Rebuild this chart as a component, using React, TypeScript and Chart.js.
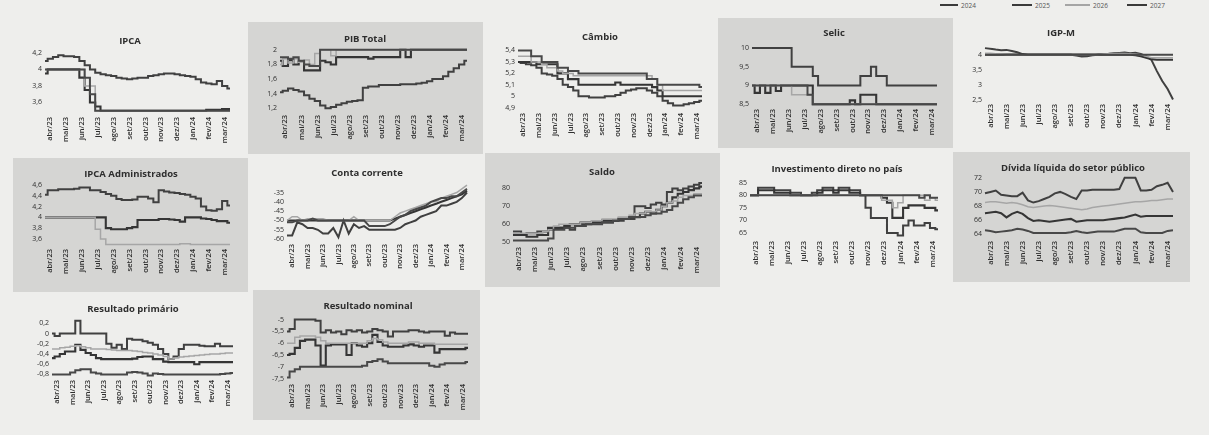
import React, { useEffect, useRef } from 'react';
import { Chart, registerables } from 'chart.js';
Chart.register(...registerables);

const FONT = "'Open Sans', 'DejaVu Sans', sans-serif";

// ---- labels ----
const months = ['abr/23', 'mai/23', 'jun/23', 'jul/23', 'ago/23', 'set/23', 'out/23', 'nov/23', 'dez/23', 'jan/24', 'fev/24', 'mar/24'];
const years = ['2024', '2025', '2026', '2027'];

// ---- tick values ----
const ipcaTicks = [3.6, 3.8, 4, 4.2];
const pibTicks = [1.2, 1.4, 1.6, 1.8, 2];
const cambioTicks = [4.9, 5, 5.1, 5.2, 5.3, 5.4];
const selicTicks = [8.5, 9, 9.5, 10];
const igpmTicks = [2.5, 3, 3.5, 4];
const admTicks = [3.6, 3.8, 4, 4.2, 4.4, 4.6];
const ccTicks = [-60, -55, -50, -45, -40, -35];
const saldoTicks = [50, 60, 70, 80];
const idpTicks = [65, 70, 75, 80, 85];
const divTicks = [64, 66, 68, 70, 72];
const rpTicks = [-0.8, -0.6, -0.4, -0.2, 0, 0.2];
const rnTicks = [-7.5, -7, -6.5, -6, -5.5, -5];

// ---- series (weekly, abr/23 .. mar/24) ----
const ipca2024 = [4.10,4.13,4.15,4.17,4.16,4.16,4.15,4.10,4.05,4.00, 3.96,3.94,3.93,3.92,3.90,3.89,3.88,3.89,3.90,3.90, 3.92,3.93,3.94,3.95,3.95,3.94,3.93,3.92,3.91,3.88, 3.84,3.83,3.82,3.86,3.80,3.77];
const ipca2025 = [3.95,4.00,4.00,4.00,4.00,4.00,4.00,3.90,3.75,3.60, 3.55,3.50,3.50,3.50,3.50,3.50,3.50,3.50,3.50,3.50, 3.50,3.50,3.50,3.50,3.50,3.50,3.50,3.50,3.50,3.50, 3.50,3.51,3.51,3.51,3.52,3.52];
const ipca2026 = [4.00,4.00,4.00,4.00,4.00,4.00,4.00,4.00,3.80,3.80, 3.50,3.50,3.50,3.50,3.50,3.50,3.50,3.50,3.50,3.50, 3.50,3.50,3.50,3.50,3.50,3.50,3.50,3.50,3.50,3.50, 3.50,3.50,3.50,3.50,3.50,3.50];
const ipca2027 = [4.00,4.00,4.00,4.00,4.00,4.00,4.00,4.00,3.90,3.70, 3.50,3.50,3.50,3.50,3.50,3.50,3.50,3.50,3.50,3.50, 3.50,3.50,3.50,3.50,3.50,3.50,3.50,3.50,3.50,3.50, 3.50,3.50,3.50,3.50,3.50,3.50];

const pib2024 = [1.42,1.44,1.47,1.45,1.43,1.38,1.33,1.30,1.24,1.20, 1.22,1.25,1.27,1.29,1.30,1.31,1.48,1.50,1.50,1.52, 1.52,1.52,1.52,1.53,1.53,1.53,1.54,1.55,1.57,1.60, 1.60,1.64,1.70,1.75,1.80,1.85];
const pib2025 = [1.85,1.78,1.86,1.80,1.84,1.72,1.72,1.72,1.85,1.83, 1.80,1.90,1.90,1.90,1.90,1.90,1.90,1.88,1.90,1.90, 1.90,1.90,1.90,2.00,1.90,2.00,2.00,2.00,2.00,2.00, 2.00,2.00,2.00,2.00,2.00,2.00];
const pib2026 = [1.80,1.88,1.82,1.88,1.83,1.86,1.80,1.95,2.00,2.00, 1.92,2.00,2.00,2.00,2.00,2.00,2.00,2.00,2.00,2.00, 2.00,2.00,2.00,2.00,2.00,2.00,2.00,2.00,2.00,2.00, 2.00,2.00,2.00,2.00,2.00,2.00];
const pib2027 = [1.90,1.90,1.88,1.90,1.85,1.80,1.78,1.78,2.00,2.00, 2.00,2.00,2.00,2.00,2.00,2.00,2.00,2.00,2.00,2.00, 2.00,2.00,2.00,2.00,2.00,2.00,2.00,2.00,2.00,2.00, 2.00,2.00,2.00,2.00,2.00,2.00];

const cambio2024 = [5.30,5.29,5.28,5.27,5.25,5.20,5.19,5.18,5.15,5.10, 5.08,5.05,5.00,5.00,4.99,4.99,4.99,5.00,5.00,5.01, 5.03,5.05,5.06,5.07,5.07,5.05,5.03,5.00,4.96,4.94, 4.92,4.92,4.93,4.94,4.95,4.96];
const cambio2025 = [5.30,5.30,5.30,5.30,5.28,5.28,5.28,5.28,5.20,5.20, 5.15,5.15,5.10,5.10,5.10,5.10,5.10,5.10,5.10,5.12, 5.10,5.10,5.10,5.10,5.10,5.10,5.08,5.05,5.00,5.00, 5.00,5.00,5.00,5.00,5.00,5.00];
const cambio2026 = [5.35,5.35,5.35,5.30,5.30,5.28,5.25,5.25,5.22,5.20, 5.20,5.18,5.18,5.18,5.18,5.18,5.18,5.18,5.18,5.18, 5.18,5.18,5.18,5.18,5.18,5.18,5.15,5.10,5.05,5.05, 5.05,5.05,5.05,5.05,5.05,5.05];
const cambio2027 = [5.40,5.40,5.40,5.35,5.35,5.30,5.30,5.30,5.25,5.25, 5.22,5.22,5.20,5.20,5.20,5.20,5.20,5.20,5.20,5.20, 5.20,5.20,5.20,5.20,5.20,5.15,5.15,5.10,5.10,5.10, 5.10,5.10,5.10,5.10,5.10,5.08];

const selic2024 = [10,10,10,10,10,10,10,10,9.5,9.5, 9.5,9.5,9.25,9,9,9,9,9,9,9, 9,9.25,9.25,9.5,9.25,9.25,9,9,9,9, 9,9,9,9,9,9];
const selic2025 = [9,8.8,9,8.8,9,8.85,9,9,9,9, 9,9,8.5,8.5,8.5,8.5,8.5,8.5,8.5,8.6, 8.5,8.75,8.75,8.75,8.5,8.5,8.5,8.5,8.5,8.5, 8.5,8.5,8.5,8.5,8.5,8.5];
const selic2026 = [9,9,9,9,9,9,9,9,8.75,8.75, 8.75,8.75,8.5,8.5,8.5,8.5,8.5,8.5,8.5,8.5, 8.5,8.5,8.5,8.5,8.5,8.5,8.5,8.5,8.5,8.5, 8.5,8.5,8.5,8.5,8.5,8.5];
const selic2027 = [9,9,9,9,9,9,9,9,9,9, 9,8.75,8.5,8.5,8.5,8.5,8.5,8.5,8.5,8.5, 8.5,8.5,8.5,8.5,8.5,8.5,8.5,8.5,8.5,8.5, 8.5,8.5,8.5,8.5,8.5,8.5];

const igpm2024 = [4.22,4.20,4.17,4.15,4.16,4.12,4.08,4.02,4.00,4.00, 4.00,4.00,4.00,4.00,4.00,4.00,4.00,3.97,3.94,3.95, 3.98,4.00,4.02,4.03,4.05,4.06,4.07,4.05,4.06,4.02, 3.95,3.82,3.45,3.12,2.85,2.50];
const igpm2025 = [4.00,4.00,4.00,4.00,4.00,4.00,4.00,4.00,4.00,4.00, 4.00,4.00,4.00,4.00,4.00,4.00,4.00,4.00,4.00,4.00, 4.00,4.00,4.00,4.00,4.00,4.00,4.00,4.00,3.98,3.95, 3.90,3.85,3.83,3.83,3.83,3.83];
const igpm2026 = [4.05,4.05,4.03,4.02,4.00,4.00,4.00,4.00,4.00,4.00, 4.00,4.00,4.00,4.00,4.00,4.00,4.00,4.00,4.00,4.00, 4.00,4.00,4.02,4.03,4.03,4.04,4.04,4.03,4.02,4.00, 3.95,3.90,3.90,3.90,3.90,3.90];
const igpm2027 = [4.00,4.00,4.00,4.00,4.00,4.00,4.00,4.00,4.00,4.00, 4.00,4.00,4.00,4.00,4.00,4.00,4.00,4.00,4.00,4.00, 4.00,4.00,4.00,4.00,4.00,4.00,4.00,4.00,4.00,4.00, 4.00,4.00,4.00,4.00,4.00,4.00];

const adm2024 = [4.42,4.50,4.50,4.52,4.52,4.52,4.53,4.55,4.55,4.50, 4.50,4.47,4.43,4.40,4.34,4.32,4.32,4.33,4.38,4.38, 4.35,4.28,4.50,4.48,4.46,4.45,4.43,4.42,4.38,4.35, 4.20,4.13,4.12,4.15,4.30,4.22];
const adm2025 = [4.00,4.00,4.00,4.00,4.00,4.00,4.00,4.00,4.00,4.00, 4.00,4.00,3.80,3.78,3.78,3.78,3.80,3.82,3.95,3.95, 3.95,3.95,3.97,3.97,3.96,3.95,3.92,4.00,4.00,4.00, 3.98,3.97,3.95,3.93,3.93,3.90];
const adm2026 = [4.00,4.00,4.00,4.00,4.00,4.00,4.00,4.00,4.00,4.00, 3.78,3.60,3.50,3.50,3.50,3.50,3.50,3.50,3.50,3.50, 3.50,3.50,3.50,3.50,3.50,3.50,3.51,3.51,3.50,3.50, 3.50,3.50,3.50,3.50,3.50,3.50];

const cc2024 = [-58,-58,-51,-52,-54,-54,-55,-57,-57,-54, -59,-50,-57,-52,-54,-53,-55,-55,-55,-55, -55,-55,-54,-52,-51,-50,-48,-47,-46,-45, -42,-42,-41,-40,-38,-35];
const cc2025 = [-50,-50,-50,-50,-50,-50,-50,-50,-50,-50, -50,-50,-50,-50,-50,-50,-50,-50,-50,-50, -50,-49,-48,-47,-46,-45,-44,-43,-42,-41, -40,-39,-38,-37,-36,-34];
const cc2026 = [-50,-48,-48,-50,-49,-49,-49,-49,-50,-50, -50,-50,-50,-48,-50,-50,-50,-50,-50,-50, -50,-48,-46,-45,-44,-43,-42,-41,-40,-40, -38,-37,-36,-35,-33,-31];
const cc2027 = [-51,-51,-50,-50,-50,-49,-50,-50,-50,-50, -50,-50,-50,-50,-50,-50,-53,-53,-53,-53, -52,-50,-48,-47,-45,-44,-43,-42,-40,-39, -38,-38,-37,-37,-35,-33];

const saldo2024 = [56,56,54,55,55,56,56,57,58,58, 58,57,59,60,60,61,61,61,61,62, 62,63,63,70,70,69,71,72,71,78, 80,79,80,81,82,83];
const saldo2025 = [54,54,54,53,53,54,54,58,58,58, 59,60,60,61,61,61,61,62,62,62, 63,63,64,64,66,67,66,68,70,72, 75,77,78,79,80,81];
const saldo2026 = [55,55,55,55,55,55,56,57,59,60, 60,60,60,61,61,62,62,63,63,63, 64,64,65,66,66,67,67,68,70,72, 73,75,76,76,77,77];
const saldo2027 = [51,51,51,51,51,51,51,52,57,57, 58,58,59,59,60,60,60,61,61,62, 63,63,64,64,64,65,66,66,67,68, 70,72,74,75,76,76];

const idp2024 = [80,80,83,83,83,82,82,82,81,81, 80,80,81,82,83,83,82,83,83,82, 82,80,75,71,71,71,65,65,64,68, 70,68,68,69,67,66.5];
const idp2025 = [80,80,82,82,82,81,81,81,80,80, 80,80,80,81,82,82,81,82,82,81, 81,80,80,80,80,79,77,71,71,75, 76,76,76,75,75,74];
const idp2026 = [80,80,80,80,80,80,80,80,80,80, 80,80,80,80,80,80,80,80,80,80, 80,80,80,80,80,78,78,75,77,80, 80,80,80,78,79,78];
const idp2027 = [80,80,80,80,80,80,80,80,80,80, 80,80,80,80,80,80,80,80,80,80, 80,80,80,80,80,80,80,80,80,80, 80,80,79,80,79,79];

const div2024 = [69.8,70.0,70.2,69.6,69.5,69.4,69.4,69.9,68.8,68.5, 68.7,69.0,69.3,69.8,70.0,69.7,69.3,69.0,70.2,70.2, 70.3,70.3,70.3,70.3,70.3,70.4,72.0,72.0,72.0,70.2, 70.2,70.3,70.8,71.0,71.3,70.0];
const div2025 = [67.0,67.1,67.2,67.0,66.4,66.9,67.2,66.9,66.3,65.9, 66.0,65.9,65.8,65.9,66.0,66.1,66.2,65.8,65.9,66.0, 66.0,66.0,66.0,66.1,66.2,66.3,66.4,66.6,66.8,66.5, 66.6,66.6,66.6,66.6,66.6,66.6];
const div2026 = [68.5,68.6,68.6,68.5,68.4,68.5,68.4,68.2,67.9,67.8, 67.9,68.0,68.1,68.0,67.9,67.8,67.7,67.6,67.5,67.6, 67.8,67.9,68.0,68.1,68.2,68.3,68.4,68.5,68.6,68.6, 68.7,68.8,68.8,68.9,69.0,69.0];
const div2027 = [64.6,64.5,64.3,64.4,64.5,64.6,64.8,64.7,64.5,64.2, 64.2,64.2,64.2,64.2,64.2,64.2,64.3,64.5,64.3,64.2, 64.3,64.4,64.4,64.4,64.4,64.6,64.8,64.8,64.8,64.3, 64.2,64.2,64.2,64.2,64.5,64.6];

const rp2024 = [0,-0.05,0,0,0,0.25,0,0,0,0, 0,-0.2,-0.28,-0.22,-0.3,-0.1,-0.12,-0.12,-0.15,-0.18, -0.22,-0.3,-0.4,-0.5,-0.45,-0.3,-0.22,-0.22,-0.22,-0.24, -0.25,-0.25,-0.2,-0.25,-0.25,-0.25];
const rp2025 = [-0.48,-0.45,-0.4,-0.35,-0.35,-0.22,-0.32,-0.38,-0.42,-0.48, -0.5,-0.5,-0.5,-0.5,-0.5,-0.5,-0.49,-0.46,-0.45,-0.45, -0.5,-0.5,-0.55,-0.56,-0.56,-0.56,-0.56,-0.56,-0.6,-0.56, -0.56,-0.56,-0.56,-0.56,-0.56,-0.56];
const rp2026 = [-0.3,-0.3,-0.28,-0.27,-0.25,-0.24,-0.26,-0.28,-0.3,-0.3, -0.3,-0.31,-0.32,-0.33,-0.33,-0.33,-0.34,-0.35,-0.37,-0.38, -0.4,-0.42,-0.45,-0.5,-0.48,-0.46,-0.45,-0.44,-0.43,-0.42, -0.41,-0.4,-0.4,-0.39,-0.38,-0.38];
const rp2027 = [-0.8,-0.8,-0.8,-0.8,-0.76,-0.72,-0.7,-0.7,-0.76,-0.78, -0.8,-0.8,-0.8,-0.8,-0.8,-0.76,-0.75,-0.76,-0.78,-0.82, -0.78,-0.79,-0.8,-0.8,-0.8,-0.8,-0.8,-0.8,-0.8,-0.8, -0.8,-0.8,-0.8,-0.79,-0.78,-0.77];

const rn2024 = [-5.5,-5.4,-5.0,-5.0,-5.0,-5.0,-5.05,-5.55,-5.45,-5.55, -5.5,-5.62,-5.45,-5.5,-5.45,-5.55,-5.5,-5.4,-5.45,-5.5, -5.72,-5.5,-5.5,-5.5,-5.45,-5.45,-5.5,-5.55,-5.5,-5.5, -5.5,-5.68,-5.55,-5.6,-5.6,-5.6];
const rn2025 = [-6.5,-6.45,-6.2,-5.9,-5.85,-5.85,-6.1,-6.95,-6.1,-6.05, -6.05,-6.05,-6.5,-6.0,-6.1,-6.15,-6.0,-5.65,-5.95,-6.1, -6.15,-6.15,-6.15,-6.1,-6.05,-6.1,-6.15,-6.1,-6.1,-6.4, -6.25,-6.25,-6.25,-6.25,-6.25,-6.2];
const rn2026 = [-6.0,-6.0,-5.75,-5.7,-5.7,-5.7,-5.75,-5.9,-6.0,-6.0, -6.0,-6.0,-6.0,-6.0,-6.0,-6.0,-5.9,-5.8,-5.85,-5.95, -6.0,-6.0,-6.0,-6.0,-5.95,-5.95,-6.0,-6.0,-6.0,-6.05, -6.05,-6.05,-6.05,-6.05,-6.05,-6.05];
const rn2027 = [-7.45,-7.2,-7.1,-7.0,-7.0,-7.0,-7.0,-7.0,-7.0,-7.0, -7.0,-7.0,-7.0,-7.0,-7.0,-6.95,-6.8,-6.75,-6.68,-6.78, -6.85,-6.85,-6.85,-6.85,-6.85,-6.85,-6.85,-6.85,-6.95,-7.0, -6.9,-6.85,-6.85,-6.85,-6.85,-6.8];

// ---- styles ----
const yearStyle: Record<string, { color: string; width: number }> = {
  '2024': { color: '#404040', width: 2 },
  '2025': { color: '#353535', width: 2.1 },
  '2026': { color: '#a6a6a6', width: 1.5 },
  '2027': { color: '#484848', width: 2 },
};

const weekLabels = months.flatMap((m) => ['', m, '']);

type Cfg = {
  title: string;
  series: { year: string; data: number[] }[];
  yMin: number; yMax: number; ticks: number[];
  plot: [number, number, number, number];
  titlePos: [number, number];
  stepped: false | 'middle';
};

const s4 = (a: number[], b: number[], c: number[], d: number[]) => [
  { year: years[3], data: d }, { year: years[2], data: c }, { year: years[1], data: b }, { year: years[0], data: a },
];

const charts: Cfg[] = [
  { title: 'IPCA', series: s4(ipca2024, ipca2025, ipca2026, ipca2027), yMin: 3.46, yMax: 4.22, ticks: ipcaTicks, plot: [45, 230, 50, 114], titlePos: [130, 41], stepped: 'middle' },
  { title: 'PIB Total', series: s4(pib2024, pib2025, pib2026, pib2027), yMin: 1.15, yMax: 2.05, ticks: pibTicks, plot: [280, 467, 45, 112], titlePos: [365, 39], stepped: 'middle' },
  { title: 'Câmbio', series: s4(cambio2024, cambio2025, cambio2026, cambio2027), yMin: 4.88, yMax: 5.42, ticks: cambioTicks, plot: [518, 702, 47, 110], titlePos: [600, 37], stepped: 'middle' },
  { title: 'Selic', series: s4(selic2024, selic2025, selic2026, selic2027), yMin: 8.45, yMax: 10.05, ticks: selicTicks, plot: [752, 937, 45, 106], titlePos: [834, 33], stepped: 'middle' },
  { title: 'IGP-M', series: s4(igpm2024, igpm2025, igpm2026, igpm2027), yMin: 2.45, yMax: 4.25, ticks: igpmTicks, plot: [985, 1173, 46, 101], titlePos: [1061, 33], stepped: false },
  { title: 'IPCA Administrados', series: [{ year: '2026', data: adm2026 }, { year: '2025', data: adm2025 }, { year: '2024', data: adm2024 }], yMin: 3.47, yMax: 4.65, ticks: admTicks, plot: [45, 230, 181, 246], titlePos: [131, 174], stepped: 'middle' },
  { title: 'Conta corrente', series: s4(cc2024, cc2025, cc2026, cc2027), yMin: -61, yMax: -30, ticks: ccTicks, plot: [287, 467, 182, 241], titlePos: [367, 173], stepped: false },
  { title: 'Saldo', series: s4(saldo2024, saldo2025, saldo2026, saldo2027), yMin: 49, yMax: 84, ticks: saldoTicks, plot: [513, 702, 180, 244], titlePos: [602, 172], stepped: 'middle' },
  { title: 'Investimento direto no país', series: s4(idp2024, idp2025, idp2026, idp2027), yMin: 63, yMax: 86, ticks: idpTicks, plot: [750, 938, 179, 238], titlePos: [837, 169], stepped: 'middle' },
  { title: 'Dívida líquida do setor público', series: s4(div2024, div2025, div2026, div2027), yMin: 63.5, yMax: 72.5, ticks: divTicks, plot: [985, 1173, 173, 238], titlePos: [1073, 168], stepped: false },
  { title: 'Resultado primário', series: s4(rp2024, rp2025, rp2026, rp2027), yMin: -0.85, yMax: 0.3, ticks: rpTicks, plot: [52, 233, 317, 377], titlePos: [133, 309], stepped: 'middle' },
  { title: 'Resultado nominal', series: s4(rn2024, rn2025, rn2026, rn2027), yMin: -7.6, yMax: -4.9, ticks: rnTicks, plot: [287, 468, 316, 381], titlePos: [368, 306], stepped: 'middle' },
];

const panels = [
  { x: 248, y: 22, w: 235, h: 132 },
  { x: 718, y: 18, w: 235, h: 130 },
  { x: 13, y: 158, w: 235, h: 134 },
  { x: 485, y: 153, w: 235, h: 134 },
  { x: 953, y: 152, w: 237, h: 130 },
  { x: 253, y: 290, w: 227, h: 130 },
];

const legendItems = [
  { year: '2024', x0: 940, x1: 958, tx: 961 },
  { year: '2025', x0: 1012, x1: 1032, tx: 1035 },
  { year: '2026', x0: 1065, x1: 1090, tx: 1093 },
  { year: '2027', x0: 1127, x1: 1147, tx: 1150 },
];

const YW = 24, PT = 6, PR = 14, XH = 34;

function Mini({ cfg }: { cfg: Cfg }) {
  const ref = useRef<HTMLCanvasElement>(null);
  const [x0, x1, y0, y1] = cfg.plot;
  const W = YW + (x1 - x0) + PR;
  const H = PT + (y1 - y0) + XH;
  useEffect(() => {
    const chart = new Chart(ref.current as HTMLCanvasElement, {
      type: 'line',
      data: {
        labels: weekLabels,
        datasets: cfg.series.map((s) => ({
          label: s.year,
          data: s.data,
          borderColor: yearStyle[s.year].color,
          borderWidth: yearStyle[s.year].width,
          pointRadius: 0,
          fill: false,
          tension: 0,
          stepped: cfg.stepped,
        })),
      },
      options: {
        responsive: false,
        animation: false,
        devicePixelRatio: 1,
        layout: { padding: { top: PT, right: PR, left: 0, bottom: 0 } },
        plugins: { legend: { display: false }, tooltip: { enabled: false }, title: { display: false } },
        scales: {
          x: {
            type: 'category',
            grid: { display: false, drawTicks: false },
            border: { display: false },
            ticks: { autoSkip: false, maxRotation: 90, minRotation: 90, padding: 3, color: '#2e2e2e', font: { family: FONT, size: 7.5, weight: '600' } },
            afterFit: (s: any) => { s.height = XH; },
          },
          y: {
            min: cfg.yMin,
            max: cfg.yMax,
            grid: { display: false, drawTicks: false },
            border: { display: false },
            afterBuildTicks: (s: any) => { s.ticks = cfg.ticks.map((v) => ({ value: v })); },
            afterFit: (s: any) => { s.width = YW; },
            ticks: { padding: 3, color: '#2e2e2e', font: { family: FONT, size: 7 }, callback: (v: any) => String(v).replace('.', ',') },
          },
        },
      } as any,
    });
    return () => chart.destroy();
  }, []);
  return (
    <canvas ref={ref} width={W} height={H}
      style={{ position: 'absolute', left: x0 - YW, top: y0 - PT, width: W, height: H }} />
  );
}

export default function App() {
  return (
    <div style={{ position: 'absolute', left: 0, top: 0, width: 1209, height: 435, background: '#eeeeec', overflow: 'hidden', fontFamily: FONT }}>
      {panels.map((p, i) => (
        <div key={i} style={{ position: 'absolute', left: p.x, top: p.y, width: p.w, height: p.h, background: '#d5d5d3' }} />
      ))}
      {charts.map((c) => <Mini key={c.title} cfg={c} />)}
      {charts.map((c) => (
        <div key={'t' + c.title} style={{ position: 'absolute', left: c.titlePos[0], top: c.titlePos[1], transform: 'translate(-50%, -50%)', fontWeight: 700, fontSize: 9.5, color: '#2e2e2e', whiteSpace: 'nowrap', lineHeight: '12px' }}>{c.title}</div>
      ))}
      {legendItems.map((l) => (
        <React.Fragment key={l.year}>
          <div style={{ position: 'absolute', left: l.x0, top: 4, width: l.x1 - l.x0, height: 0, borderTop: `2.5px solid ${l.year === '2026' ? '#a5a5a5' : '#3a3a3a'}` }} />
          <div style={{ position: 'absolute', left: l.tx, top: 0, fontSize: 6.5, lineHeight: '11px', color: '#555' }}>{l.year}</div>
        </React.Fragment>
      ))}
    </div>
  );
}
